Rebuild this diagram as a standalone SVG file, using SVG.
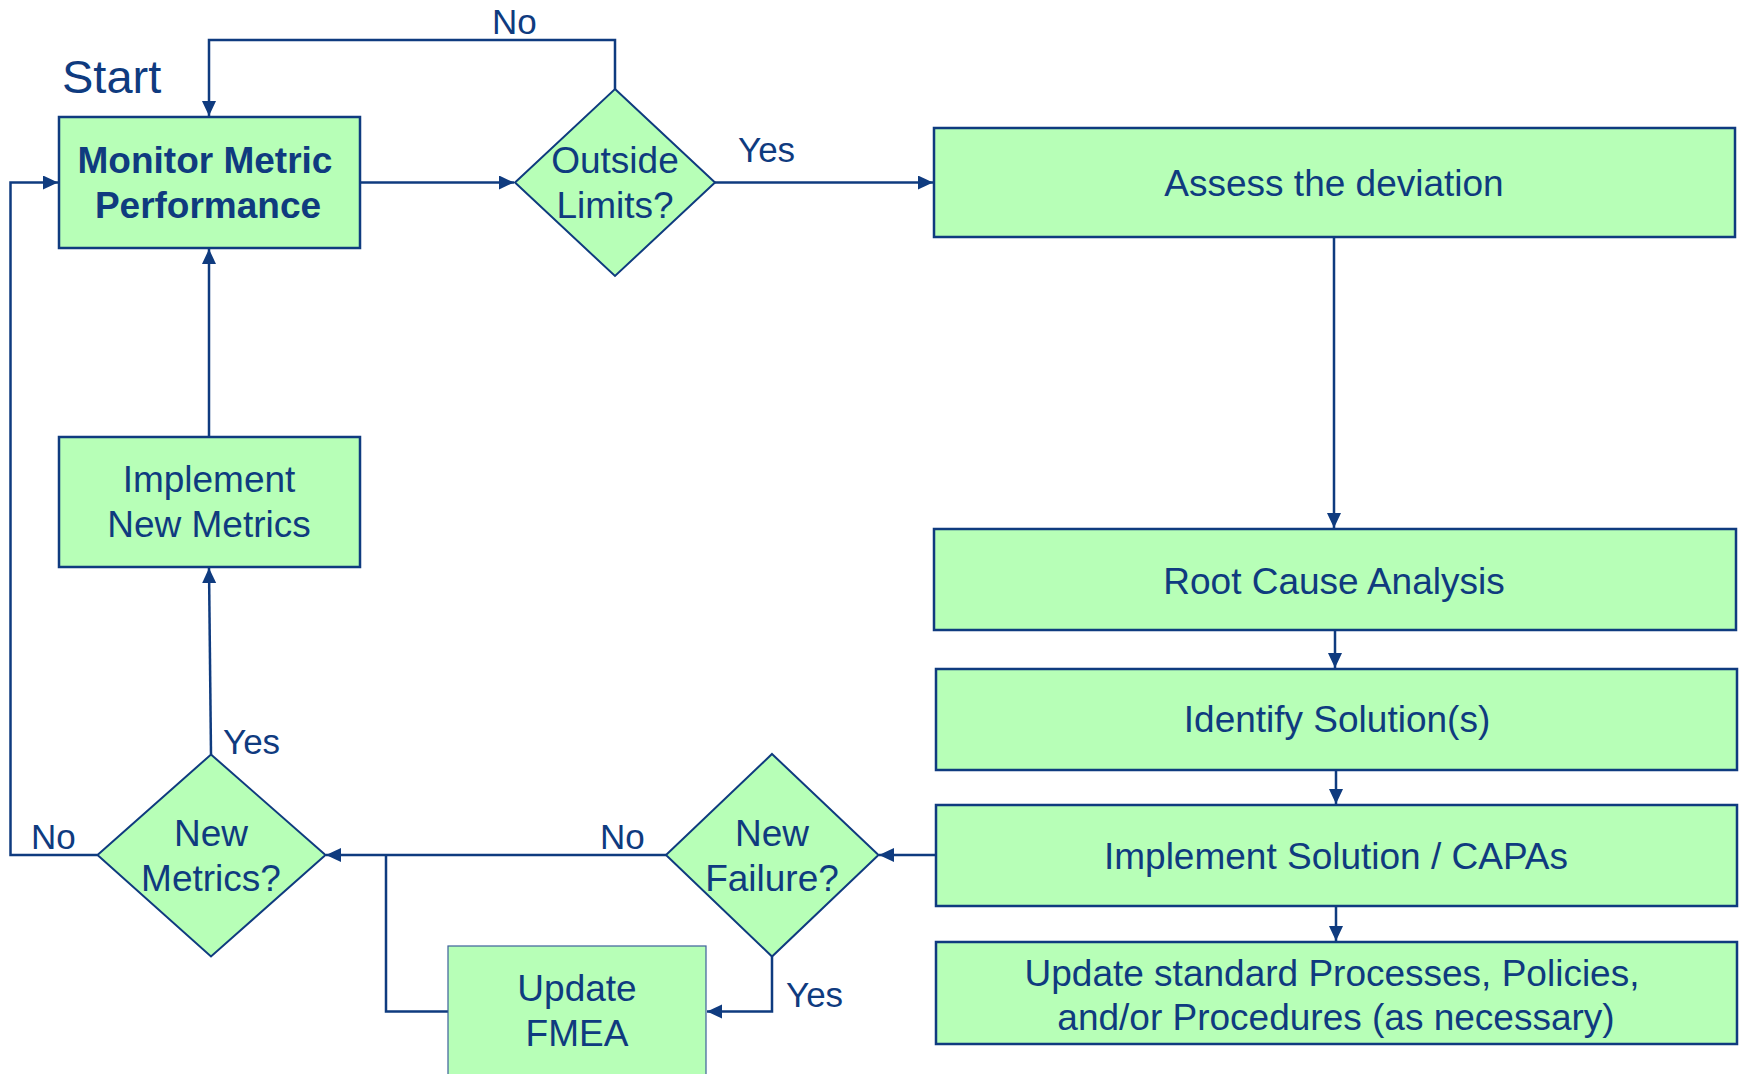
<svg xmlns="http://www.w3.org/2000/svg" width="1739" height="1074" viewBox="0 0 1739 1074">
<style>
.box{fill:#b7ffb7;stroke:#0f3b7f;stroke-width:2.5}
.dia{fill:#b7ffb7;stroke:#0f3b7f;stroke-width:2}
.t{font-family:"Liberation Sans",Arial,sans-serif;font-size:37px;fill:#0f3b7f;text-anchor:middle}
.b{font-weight:bold}
.lbl{font-family:"Liberation Sans",Arial,sans-serif;font-size:35px;fill:#0f3b7f}
.c{fill:none;stroke:#0f3b7f;stroke-width:2.5}
</style>
<defs>
<marker id="ah" markerUnits="userSpaceOnUse" markerWidth="17" markerHeight="15" refX="15" refY="7" orient="auto">
<path d="M0,0 L15,7 L0,14 z" fill="#0f3b7f"/>
</marker>
</defs>
<rect width="1739" height="1074" fill="#ffffff"/>
<text class="lbl" x="62" y="93" style="font-size:47px">Start</text>
<g id="connectors">
<path class="c" d="M615,89 V40 H209 V116" marker-end="url(#ah)"/>
<path class="c" d="M360,182.5 H514" marker-end="url(#ah)"/>
<path class="c" d="M715,182.5 H933" marker-end="url(#ah)"/>
<path class="c" d="M1334,237 V528" marker-end="url(#ah)"/>
<path class="c" d="M1335,630 V668" marker-end="url(#ah)"/>
<path class="c" d="M1336,770 V804" marker-end="url(#ah)"/>
<path class="c" d="M1336,906 V941" marker-end="url(#ah)"/>
<path class="c" d="M936,855 H879" marker-end="url(#ah)"/>
<path class="c" d="M666,855 H326" marker-end="url(#ah)"/>
<path class="c" d="M772,956.5 V1011.5 H707" marker-end="url(#ah)"/>
<path class="c" d="M448,1011.5 H386 V855"/>
<path class="c" d="M211,754.5 L209,568" marker-end="url(#ah)"/>
<path class="c" d="M209,437 V249" marker-end="url(#ah)"/>
<path class="c" d="M97.6,855 H10.5 V182.5 H58" marker-end="url(#ah)"/>
<text class="lbl" x="492" y="34">No</text>
<text class="lbl" x="738" y="162">Yes</text>
<text class="lbl" x="223" y="754">Yes</text>
<text class="lbl" x="31" y="849">No</text>
<text class="lbl" x="600" y="849">No</text>
<text class="lbl" x="786" y="1007">Yes</text>
</g>
<g id="monitor">
<rect class="box" x="59" y="117" width="301" height="131"/>
<text class="t b" x="205" y="173">Monitor Metric</text>
<text class="t b" x="208" y="218">Performance</text>
</g>
<g id="outside-limits">
<polygon class="dia" points="615,89 715,182.5 615,276 515,182.5"/>
<text class="t" x="615" y="173">Outside</text>
<text class="t" x="615" y="218">Limits?</text>
</g>
<g id="assess">
<rect class="box" x="934" y="128" width="801" height="109"/>
<text class="t" x="1334" y="196">Assess the deviation</text>
</g>
<g id="root-cause">
<rect class="box" x="934" y="529" width="802" height="101"/>
<text class="t" x="1334" y="594">Root Cause Analysis</text>
</g>
<g id="identify">
<rect class="box" x="936" y="669" width="801" height="101"/>
<text class="t" x="1337" y="732">Identify Solution(s)</text>
</g>
<g id="implement-solution">
<rect class="box" x="936" y="805" width="801" height="101"/>
<text class="t" x="1336" y="869">Implement Solution / CAPAs</text>
</g>
<g id="update-standard">
<rect class="box" x="936" y="942" width="801" height="102"/>
<text class="t" x="1332" y="986">Update standard Processes, Policies,</text>
<text class="t" x="1336" y="1030">and/or Procedures (as necessary)</text>
</g>
<g id="new-failure">
<polygon class="dia" points="772,754 878.5,855 772,956.5 666,855"/>
<text class="t" x="772" y="846">New</text>
<text class="t" x="772" y="891">Failure?</text>
</g>
<g id="update-fmea">
<rect x="448" y="946" width="258" height="135" fill="#b7ffb7" stroke="#3d5f9a" stroke-width="1.2"/>
<text class="t" x="577" y="1001">Update</text>
<text class="t" x="577" y="1046">FMEA</text>
</g>
<g id="new-metrics">
<polygon class="dia" points="211,754.5 325.5,855 211,956.5 97.5,855"/>
<text class="t" x="211" y="846">New</text>
<text class="t" x="211" y="891">Metrics?</text>
</g>
<g id="implement-metrics">
<rect class="box" x="59" y="437" width="301" height="130"/>
<text class="t" x="209" y="492">Implement</text>
<text class="t" x="209" y="537">New Metrics</text>
</g>
</svg>
